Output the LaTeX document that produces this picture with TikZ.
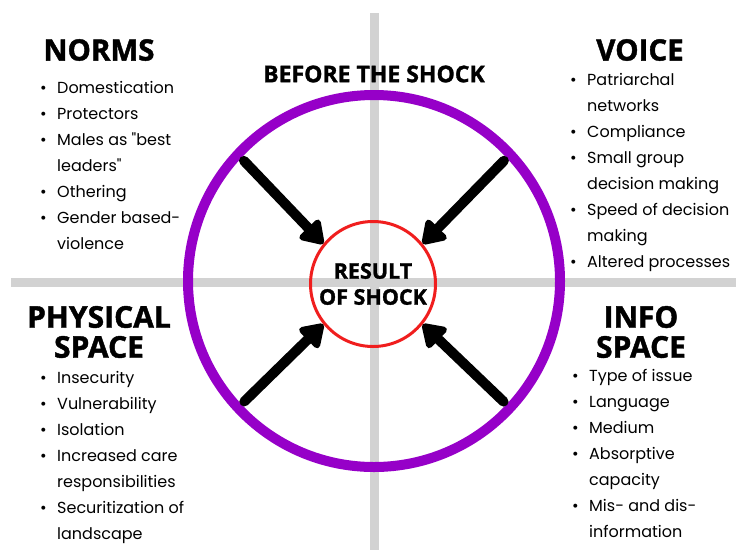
\documentclass[tikz,border=0pt]{standalone}
\usepackage{fontspec}
\setmainfont{Poppins}
\newfontfamily\headfont{Open Sans}[BoldFeatures={FakeBold=1.4}]
\usetikzlibrary{arrows.meta}

\definecolor{ringpurple}{RGB}{150,0,200}
\definecolor{shockred}{RGB}{240,30,30}
\definecolor{crossgray}{RGB}{210,210,210}

% bullet and continuation of a list line
\newcommand{\itm}{\makebox[17pt][l]{\textbullet}}
\newcommand{\cnt}{\hspace*{17pt}}

\begin{document}
\begin{tikzpicture}[x=1pt,y=-1pt]
    % Styles for headings, lists and arrows
    \tikzstyle{heading}=[font=\headfont\bfseries\fontsize{29.5}{30}\selectfont, align=center, inner sep=0pt]
    \tikzstyle{itemlist}=[font=\fontsize{16}{26}\selectfont, anchor=base west, inner sep=0pt]
    \tikzstyle{crossline}=[crossgray, line width=9pt]
    \tikzstyle{shockarrow}=[line width=10pt, line cap=round, shorten <=14pt,
        -{Triangle[width=31pt,length=25pt,round]}]

    \useasboundingbox (0,0) rectangle (736,550);

    % Draw the gray cross
    \draw[crossline] (374.5,13) -- (374.5,550);
    \draw[crossline] (11,282.5) -- (736,282.5);

    % Draw the two circles
    \node[circle, draw=ringpurple, line width=10pt, minimum size=372pt, inner sep=0pt] (ring) at (374,281) {};
    \node[circle, draw=shockred, line width=3pt, minimum size=125pt, inner sep=0pt, align=center,
        font=\headfont\bfseries\fontsize{21.5}{26}\selectfont] (result) at (373,284) {RESULT\\OF SHOCK};

    % Label above the ring
    \node[heading, font=\headfont\bfseries\fontsize{23}{24}\selectfont] (before) at (374,74) {BEFORE THE SHOCK};

    % Draw the arrows from the ring to the result
    \foreach \a/\b in {137/141, 43/39, 223/219, 317/321}
        \draw[shockarrow] (ring.\a) -- (result.\b);

    % Quadrant headings
    \node[heading] (norms) at (99,50) {NORMS};
    \node[heading] (voice) at (640,50) {VOICE};
    \node[heading, font=\headfont\bfseries\fontsize{30}{30}\selectfont] (physical) at (99,332) {PHYSICAL\\SPACE};
    \node[heading, font=\headfont\bfseries\fontsize{30}{30}\selectfont] (info) at (641,332) {INFO\\SPACE};

    % Quadrant lists
    \node[itemlist] (normslist) at (40,93) {\begin{tabular}[t]{@{}l@{}}
        \itm Domestication\\ \itm Protectors\\ \itm Males as \textquotedbl best\\ \cnt leaders\textquotedbl\\
        \itm Othering\\ \itm Gender based-\\ \cnt violence\end{tabular}};
    \node[itemlist] (voicelist) at (570,85) {\begin{tabular}[t]{@{}l@{}}
        \itm Patriarchal\\ \cnt networks\\ \itm Compliance\\ \itm Small group\\
        \cnt decision making\\ \itm Speed of decision\\ \cnt making\\ \itm Altered processes\end{tabular}};
    \node[itemlist] (physicallist) at (40,383) {\begin{tabular}[t]{@{}l@{}}
        \itm Insecurity\\ \itm Vulnerability\\ \itm Isolation\\ \itm Increased care\\
        \cnt responsibilities\\ \itm Securitization of\\ \cnt landscape\end{tabular}};
    \node[itemlist] (infolist) at (572,381) {\begin{tabular}[t]{@{}l@{}}
        \itm Type of issue\\ \itm Language\\ \itm Medium\\ \itm Absorptive\\
        \cnt capacity\\ \itm Mis- and dis-\\ \cnt information\end{tabular}};
\end{tikzpicture}
\end{document}
